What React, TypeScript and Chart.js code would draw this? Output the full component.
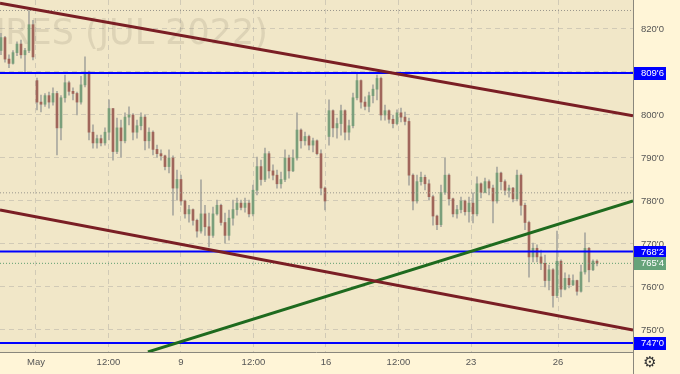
import React, { useEffect, useRef } from 'react';
import { Chart, registerables } from 'chart.js';

Chart.register(...registerables);

// OHLC (cents/bu, quoted in 1/8ths), bar interval ~3.3h, May 2022 July corn futures
const opens = [815,818,813,812,814.5,816.5,814,815,821,808,803,802.5,804.5,803,805,797,804,807.5,805.5,805,803,807,810,796,793.5,794.5,793.5,796,801.5,791.5,797,794,799.5,800,796,797.5,799.5,794,796,792,791,790.5,788,790,783,785,780,777,778,775.5,773,777,774,772,777,779,775,772,776,778,779.5,778.5,779.5,777,782.5,788,785,791,787,786,784,785,790,787,790,796.5,794,795,793,794,791,783,795,801,797,798,801,796,797.5,804,808,803,802,804.5,806,808.5,800,801,799,798,800.5,799.5,798.5,786,780,784.5,785.5,784,781,776.5,774.5,782,786,780.5,777,778,780,777.5,779.5,777,784,782,784.5,783,780,786.5,784.5,782.5,783,780.5,786,779,775,767,769,767,765.5,761.5,764,758,766,759.5,762,760.5,761.5,759,763.5,769,764,766];
const highs = [819,818.3,814,815,817,817.4,815.5,824.3,822,808.6,804.6,805,805.3,806.3,805.5,804.5,809.3,807.9,806.3,805.3,809,813.5,810.2,797.7,795.3,795.3,797,803.5,801.5,799.3,798.8,800.5,801.9,800.3,798.8,800.5,800,797,796.3,793,791.9,790.7,791.9,790.5,787.2,786,780.2,779,778.2,775.8,784.9,779,777.2,778.6,780.2,779.3,777.2,777.9,780.2,780.7,780.2,780.7,780.2,783.7,790.2,789.5,792.3,791.5,788.4,787.2,786.7,791.9,790.7,791.9,800.5,796.8,796,795.3,794.6,794.2,791.9,783.3,803.5,801.2,799.3,802.3,801.2,798.8,805.1,810,808.2,804.2,805.3,807,809.3,808.8,802.3,801.2,800,801.2,801.6,800.7,799.3,786.3,786,786.7,786,784.9,781.4,776.7,783.7,790,786.3,780.7,779,780.9,780.2,780.9,781.9,785.6,784.2,785.3,784.9,783.7,787.9,786.7,784.9,783.7,783.2,787.2,786.3,779.5,775.3,770.2,769.8,768.6,767.4,765.1,764.3,773,766.3,763.3,762.8,762.8,761.6,765.1,772.6,769.2,766.3,766.3];
const lows = [814,812.3,811,811.8,813.8,813.2,810,814.5,812.8,801.2,800.7,802,801.6,802.3,790.7,794.2,803,804.6,803.5,800,802.5,806.5,794.2,792.3,792.3,792.8,793,794.2,789.5,791,790.2,793.5,797.7,794.2,794.6,796.5,791.9,792.3,790.7,790.2,789.5,787.2,786.5,776.7,780.2,779,776,775.1,774.4,771.6,772.5,772,769.3,771.5,776.7,774.4,770.2,770.9,774.4,776.7,777.9,777.4,776.3,776.5,781.4,783.7,784.5,785.3,784.9,783,783,784.5,785.3,786.8,789.5,792.3,793,791.9,791.4,790.7,781.4,777.9,793,794.9,794.6,795.3,794.2,794.2,797,803.5,801.6,801.2,800.7,802.8,803.5,798.8,798.8,798.1,797,797.7,798.4,797.7,783.7,777.9,779.5,783.7,782.6,780.2,774.4,773.3,774,781.5,779,776.3,776,777.2,776.7,775.1,774.9,776.5,780.7,781.9,781.4,774.9,779.5,782.6,781.4,780.9,779.8,780,776.7,773.3,762.3,765.8,765.8,764,760,759.3,755.3,757.5,757.7,759.3,759.8,760.3,758.1,758.8,763,761.2,763.8,764.9];
const closes = [818,813,812,814.5,816.5,814,815,821,813.5,803,802.5,804.5,803,805,797,804,807.5,805.5,805,803,807,810,796,793.5,794.5,793.5,796,801.5,791.5,797,794,799.5,800,796,797.5,799.5,794,796,792,791,790.5,788,790,783,785,780,777,778,775.5,773,777,774,772,777,779,775,772,776,778,779.5,778.5,779.5,777,782.5,788,785,791,787,786,784,785,790,787,790,796.5,794,795,793,794,791,783,780,801,797,798,801,796,797.5,804,808,803,802,804.5,806,808.5,800,801,799,798,800.5,799.5,798.5,786,780,784.5,785.5,784,781,776.5,774.5,782,786,780.5,777,778,780,777.5,779.5,777,784,782,784.5,783,780,786.5,784.5,782.5,783,780.5,786,779,775,767,769,767,765.5,761.5,764,758,766,759.5,762,760.5,761.5,759,763.5,769,764,766,765.5];

// time axis in trading days counted from Mon May 2 (weekends removed)
const firstBarDay = -1.2069;
const barStepDays = 0.13793;
const barDays = opens.map((_, i) => firstBarDay + i * barStepDays);

const xMinDay = -1.241;
const xMaxDay = 20.586;
const yMinPrice = 744.88;
const yMaxPrice = 826.74;

const xTickDays = [0, 2.5, 5, 7.5, 10, 12.5, 15, 18];
const xTickLabels = ['May', '12:00', '9', '12:00', '16', '12:00', '23', '26'];
const yTickPrices = [750, 760, 770, 780, 790, 800, 810, 820];

// drawings
const upperChannel = [{ x: -1.241, y: 826.0 }, { x: 20.586, y: 799.8 }];
const lowerChannel = [{ x: -1.241, y: 777.9 }, { x: 20.586, y: 750.0 }];
const supportLine = [{ x: 3.86, y: 744.9 }, { x: 20.586, y: 780.0 }];
const levelPrices = [809.75, 768.25, 747.0];
const dottedPrices = [824.3, 781.9];
const lastPrice = 765.5;

const PLOT_BG = '#f1e7c8';
const AXIS_BG = '#fff5d7';
const FONT = '"Liberation Sans", Arial, sans-serif';

const fmt = (v: number) => {
  const w = Math.floor(v + 1e-9);
  const e = Math.round((v - w) * 8);
  return `${w}'${e}`;
};

const decor = {
  id: 'decor',
  beforeDraw(chart: any) {
    const { ctx, chartArea: a, width, height } = chart;
    ctx.save();
    ctx.fillStyle = AXIS_BG;
    ctx.fillRect(0, 0, width, height);
    ctx.fillStyle = PLOT_BG;
    ctx.fillRect(a.left, a.top, a.right - a.left, a.bottom - a.top);
    ctx.restore();
  },
  beforeDatasetsDraw(chart: any) {
    const { ctx, chartArea: a } = chart;
    ctx.save();
    ctx.beginPath();
    ctx.rect(a.left, a.top, a.right - a.left, a.bottom - a.top);
    ctx.clip();
    ctx.font = '35px "DejaVu Sans", sans-serif';
    ctx.fillStyle = 'rgba(150,140,120,0.22)';
    ctx.textAlign = 'right';
    ctx.textBaseline = 'alphabetic';
    ctx.fillText('CORN FUTURES (JUL 2022)', a.left + 268, 44);
    ctx.restore();
  },
  afterDraw(chart: any) {
    const { ctx, chartArea: a, height } = chart;
    const ys = chart.scales.y;
    ctx.save();
    ctx.strokeStyle = '#8a877c';
    ctx.lineWidth = 1;
    ctx.beginPath();
    ctx.moveTo(a.right + 0.5, 0);
    ctx.lineTo(a.right + 0.5, height);
    ctx.moveTo(0, a.bottom + 0.5);
    ctx.lineTo(a.right, a.bottom + 0.5);
    ctx.stroke();

    const boxes = [
      ...levelPrices.map((p) => ({ p, bg: '#0000ff' })),
      { p: lastPrice, bg: '#66a37a' },
    ];
    ctx.font = `9.5px ${FONT}`;
    ctx.textAlign = 'left';
    ctx.textBaseline = 'middle';
    boxes.forEach(({ p, bg }) => {
      const y = ys.getPixelForValue(p);
      ctx.fillStyle = bg;
      ctx.fillRect(a.right + 1, Math.round(y) - 6, 32, 13);
      ctx.fillStyle = '#ffffff';
      ctx.fillText(fmt(p), a.right + 8, Math.round(y) + 0.5);
    });

    ctx.fillStyle = '#333333';
    ctx.font = '15px "DejaVu Sans"';
    ctx.textAlign = 'center';
    ctx.fillText('\u2699', a.right + 17, a.bottom + 11);
    ctx.restore();
  },
};

const hLine = (p: number) => [{ x: xMinDay, y: p }, { x: xMaxDay, y: p }];

export default function App() {
  const ref = useRef<HTMLCanvasElement>(null);
  useEffect(() => {
    document.body.style.margin = '0';
    const up = closes.map((c, i) => c >= opens[i]);
    const lineDs = (data: any, color: string, width: number, order: number, dash?: number[]) => ({
      type: 'line' as const,
      data,
      borderColor: color,
      borderWidth: width,
      borderDash: dash || [],
      pointRadius: 0,
      tension: 0,
      fill: false,
      order,
    });
    const chart = new Chart(ref.current as HTMLCanvasElement, {
      type: 'bar',
      data: {
        datasets: [
          lineDs(upperChannel, '#7a1e24', 3, 1),
          lineDs(lowerChannel, '#7a1e24', 3, 1),
          lineDs(supportLine, '#1e6a1e', 3, 1),
          ...levelPrices.map((p) => lineDs(hLine(p), '#0000ff', 2, 1)),
          ...dottedPrices.map((p) => lineDs(hLine(p), '#9a968c', 1, 3, [1, 2])),
          lineDs(hLine(lastPrice), '#5f9e70', 1, 3, [1, 2]),
          {
            type: 'bar' as const,
            data: barDays.map((d, i) => ({ x: d, y: [opens[i], closes[i]] })) as any,
            backgroundColor: up.map((u) => (u ? '#7a9f7b' : '#a0665b')),
            barThickness: 2,
            minBarLength: 1,
            grouped: false,
            order: 4,
          },
          {
            type: 'bar' as const,
            data: barDays.map((d, i) => ({ x: d, y: [lows[i], highs[i]] })) as any,
            backgroundColor: '#a9a89f',
            barThickness: 1,
            grouped: false,
            order: 5,
          },
        ] as any,
      },
      options: {
        animation: false,
        responsive: true,
        maintainAspectRatio: false,
        layout: { padding: 0 },
        plugins: { legend: { display: false }, tooltip: { enabled: false } },
        scales: {
          x: {
            type: 'linear',
            min: xMinDay,
            max: xMaxDay,
            offset: false,
            afterFit: (s: any) => { s.height = 22; s.paddingLeft = 0; s.paddingRight = 0; },
            afterBuildTicks: (s: any) => { s.ticks = xTickDays.map((v) => ({ value: v })); },
            grid: { color: 'rgba(150,150,150,0.35)', drawTicks: false, offset: false },
            border: { display: false, dash: [5, 4] },
            ticks: {
              autoSkip: false,
              maxRotation: 0,
              padding: 5,
              color: '#555555',
              font: { family: FONT, size: 9.5 },
              callback: (v: any) => {
                const i = xTickDays.indexOf(Number(v));
                return i >= 0 ? xTickLabels[i] : '';
              },
            },
          },
          y: {
            type: 'linear',
            position: 'right',
            min: yMinPrice,
            max: yMaxPrice,
            afterFit: (s: any) => { s.width = 47; s.paddingTop = 0; s.paddingBottom = 0; },
            afterBuildTicks: (s: any) => { s.ticks = yTickPrices.map((v) => ({ value: v })); },
            grid: { color: 'rgba(150,150,150,0.35)', drawTicks: false },
            border: { display: false, dash: [5, 4] },
            ticks: {
              padding: 8,
              color: '#555555',
              font: { family: FONT, size: 9.5 },
              callback: (v: any) => fmt(Number(v)),
            },
          },
        },
      } as any,
      plugins: [decor],
    });
    return () => chart.destroy();
  }, []);
  return (
    <div style={{ width: 680, height: 374, position: 'relative' }}>
      <canvas ref={ref} />
    </div>
  );
}
